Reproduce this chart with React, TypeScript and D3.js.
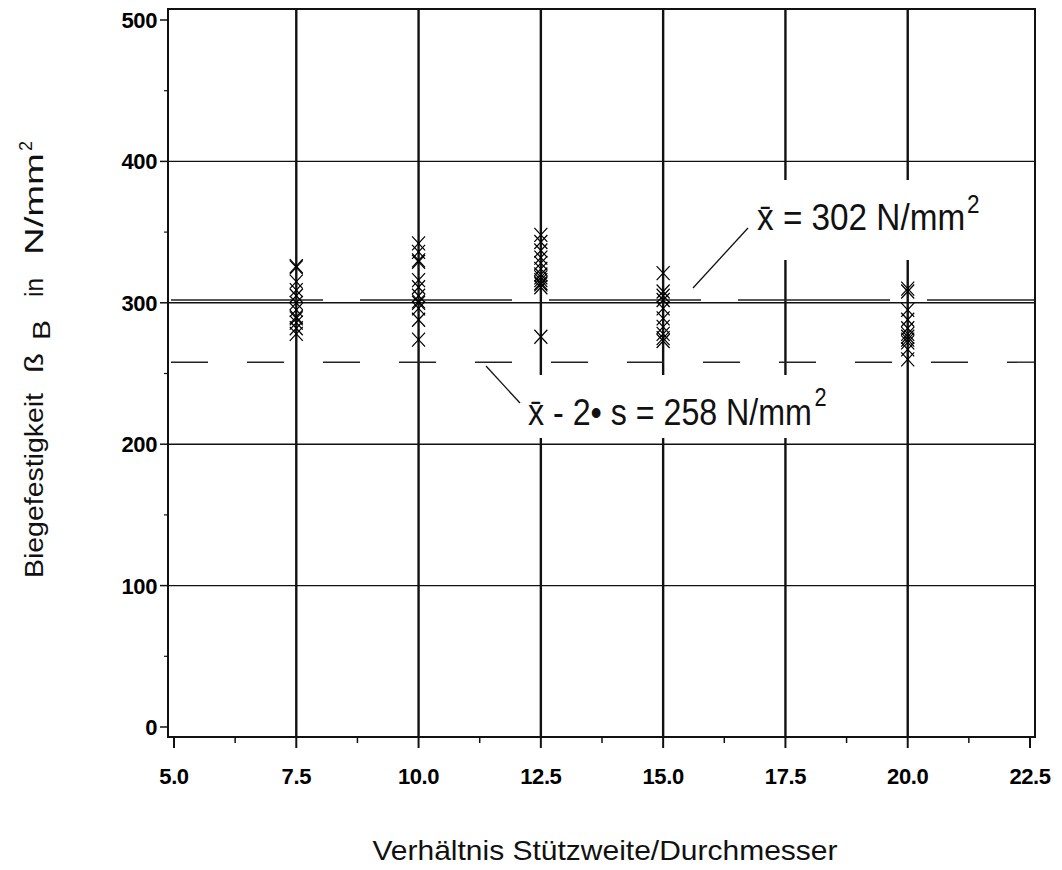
import React from "react";
import * as d3 from "d3";

// Messwerte je Stützweitenverhältnis (N/mm²)
const ratios = [7.5, 10, 12.5, 15, 20];
const values75 = [326, 325, 315, 309, 305, 300, 295, 290, 289, 286, 282, 278];
const values10 = [342, 336, 330, 329, 316, 311, 305, 301, 300, 296, 288, 274];
const values125 = [348, 343, 337, 332, 328, 324, 320, 318, 316, 314, 313, 311, 276];
const values15 = [321, 308, 305, 302, 296, 289, 283, 278, 275, 273];
const values20 = [310, 308, 295, 288, 282, 278, 276, 274, 272, 267, 260];
const series = [values75, values10, values125, values15, values20];

const meanValue = 302;
const lowerValue = 258;

const xTicks = [5, 7.5, 10, 12.5, 15, 17.5, 20, 22.5];
const xMinor = [6.25, 8.75, 11.25, 13.75, 16.25, 18.75, 21.25];
const xGrid = [7.5, 10, 12.5, 15, 17.5, 20];
const yTicks = [0, 100, 200, 300, 400, 500];
const yMinor = [50, 150, 250, 350, 450];
const yGrid = [100, 200, 300, 400];

const frame = { left: 168, right: 1035, top: 9, bottom: 737 };

export default function App() {
  const x = d3.scaleLinear().domain([5, 22.5]).range([174, 1030]);
  const y = d3.scaleLinear().domain([0, 500]).range([727, 20]);

  const points = series.flatMap((vals, i) => vals.map((v) => ({ r: ratios[i], v })));
  const tickFont = {
    fontFamily: "'Liberation Sans', Arial, sans-serif",
    fontWeight: 700,
    fontSize: 22,
    letterSpacing: -0.4,
  } as const;
  const txt = "'Liberation Sans', Arial, sans-serif";

  return (
    <svg width={1062} height={870} style={{ position: "absolute", left: 0, top: 0, background: "#fff" }}>
      <rect width={1062} height={870} fill="#fff" />
      {/* grid */}
      {yGrid.map((t) => (
        <line key={"hy" + t} x1={frame.left} x2={frame.right} y1={y(t)} y2={y(t)} stroke="#111" strokeWidth={1.4} />
      ))}
      {xGrid.map((t) => (
        <line key={"vx" + t} x1={x(t)} x2={x(t)} y1={frame.top} y2={frame.bottom} stroke="#111" strokeWidth={2.4} />
      ))}

      {/* mean lines */}
      <line x1={frame.left + 3} x2={frame.right} y1={y(meanValue)} y2={y(meanValue)} stroke="#222" strokeWidth={1.5} strokeDasharray="152,37" />
      <line x1={frame.left + 3} x2={frame.right} y1={y(lowerValue)} y2={y(lowerValue)} stroke="#222" strokeWidth={1.4} strokeDasharray="37,39" />

      {/* label boxes */}
      <rect x={735} y={180} width={275} height={80} fill="#fff" />
      <rect x={505} y={375} width={355} height={63} fill="#fff" />

      {/* markers */}
      {points.map((p, i) => (
        <path
          key={i}
          transform={`translate(${x(p.r)},${y(p.v)})`}
          d="M-6.5,-7L6.5,7M-6.5,7L6.5,-7"
          stroke="#000"
          strokeWidth={1.2}
          fill="none"
        />
      ))}

      {/* frame */}
      <rect x={frame.left} y={frame.top} width={frame.right - frame.left} height={frame.bottom - frame.top} fill="none" stroke="#111" strokeWidth={2} />

      {/* x ticks */}
      {xTicks.map((t) => (
        <g key={"xt" + t}>
          <line x1={x(t)} x2={x(t)} y1={frame.bottom} y2={frame.bottom + 11} stroke="#111" strokeWidth={2} />
          <text x={x(t)} y={784} textAnchor="middle" {...tickFont}>
            {d3.format(".1f")(t)}
          </text>
        </g>
      ))}
      {xMinor.map((t) => (
        <line key={"xm" + t} x1={x(t)} x2={x(t)} y1={frame.bottom} y2={frame.bottom + 6} stroke="#111" strokeWidth={1.5} />
      ))}

      {/* y ticks */}
      {yTicks.map((t) => (
        <g key={"yt" + t}>
          <line x1={frame.left - 8} x2={frame.left} y1={y(t)} y2={y(t)} stroke="#111" strokeWidth={1.5} />
          <text x={157} y={y(t) + 8} textAnchor="end" {...tickFont}>
            {t}
          </text>
        </g>
      ))}
      {yMinor.map((t) => (
        <line key={"ym" + t} x1={frame.left - 4} x2={frame.left} y1={y(t)} y2={y(t)} stroke="#111" strokeWidth={1.2} />
      ))}

      {/* annotations */}
      <line x1={693} y1={288} x2={748} y2={228} stroke="#111" strokeWidth={1.3} />
      <text transform="translate(757,230) scale(0.9,1)" fontFamily={txt} fontSize={37} fill="#111">
        {"x\u0304 = 302 N/mm"}
        <tspan fontSize={25} dy={-17} dx={2}>2</tspan>
      </text>

      <line x1={486} y1={366} x2={520} y2={403} stroke="#111" strokeWidth={1.3} />
      <text transform="translate(528,425) scale(0.87,1)" fontFamily={txt} fontSize={37} fill="#111">
        {"x\u0304 - 2\u2022 s = 258 N/mm"}
        <tspan fontSize={25} dy={-19} dx={3}>2</tspan>
      </text>

      {/* axis titles */}
      <text x={605} y={860} textAnchor="middle" fontFamily={txt} fontSize={28} textLength={465} lengthAdjust="spacingAndGlyphs" fill="#111">
        Verhältnis Stützweite/Durchmesser
      </text>
      <g transform="translate(43,0) rotate(-90)" fontFamily={txt} fill="#111">
        <text x={-578} y={0} fontSize={25} textLength={185} lengthAdjust="spacingAndGlyphs">Biegefestigkeit</text>
        <text x={-373} y={0} fontSize={25} textLength={20} lengthAdjust="spacingAndGlyphs">ß</text>
        <text x={-340} y={7} fontSize={23} textLength={20} lengthAdjust="spacingAndGlyphs">B</text>
        <text x={-297} y={0} fontSize={25} textLength={19} lengthAdjust="spacingAndGlyphs">in</text>
        <text x={-255} y={0} fontSize={25} textLength={102} lengthAdjust="spacingAndGlyphs">N/mm</text>
        <text x={-151} y={-11} fontSize={18}>2</text>
      </g>
    </svg>
  );
}
